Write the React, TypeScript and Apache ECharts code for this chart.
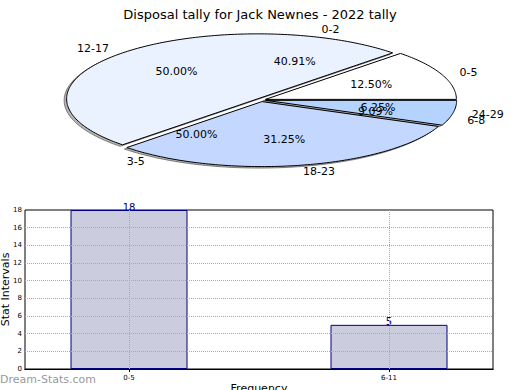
import React, { useEffect, useRef } from "react";
import * as echarts from "echarts";

const chartTitle = "Disposal tally for Jack Newnes - 2022 tally";
const outerLabels = ["0-5", "12-17", "18-23", "24-29"];
const outerValues = [12.5, 50.0, 31.25, 6.25];
const outerColors = ["#ffffff", "#eaf1ff", "#c4d8ff", "#b4d4ff"];
const innerLabels = ["0-2", "3-5", "6-8"];
const innerValues = [40.91, 50.0, 9.09];
const barCategories = ["0-5", "6-11"];
const barValues = [18, 5];
const yTicks = [0, 2, 4, 6, 8, 10, 12, 14, 16, 18];

const FONT = "DejaVu Sans";
const CX = 261;
const CY = 100;
const RX = 191;
const RY = 65;
const EXPLODE = 0.025;

function toSlices(values: number[]) {
  const total = values.reduce((a, b) => a + b, 0);
  let acc = 0;
  return values.map((v) => {
    const a0 = (acc / total) * 360;
    acc += v;
    const a1 = (acc / total) * 360;
    return { a0, a1, mid: (a0 + a1) / 2, pct: (v / total) * 100 };
  });
}

const outerSlices = toSlices(outerValues);
const innerSlices = toSlices(innerValues);

function wedgePoints(a0: number, a1: number, dx: number, dy: number) {
  const mid = ((a0 + a1) / 2) * Math.PI / 180;
  const ox = CX + EXPLODE * RX * Math.cos(mid) + dx;
  const oy = CY - EXPLODE * RY * Math.sin(mid) + dy;
  const pts: number[][] = [[ox, oy]];
  const steps = Math.max(2, Math.ceil(a1 - a0));
  for (let k = 0; k <= steps; k++) {
    const a = (a0 + ((a1 - a0) * k) / steps) * Math.PI / 180;
    pts.push([ox + RX * Math.cos(a), oy - RY * Math.sin(a)]);
  }
  return pts;
}

function labelEls(slice: { mid: number; pct: number }, name: string) {
  const m = slice.mid * Math.PI / 180;
  const ex = EXPLODE * RX * Math.cos(m);
  const ey = -EXPLODE * RY * Math.sin(m);
  const c = Math.cos(m);
  const s = Math.sin(m);
  const lx = CX + ex + 1.1 * RX * c;
  const ly = CY + ey - 1.1 * RY * s;
  const px = CX + ex + 0.6 * RX * c;
  const py = CY + ey - 0.6 * RY * s;
  return [
    {
      type: "text",
      x: lx,
      y: ly,
      style: {
        text: name,
        fill: "#000",
        fontSize: 11,
        fontFamily: FONT,
        align: c >= 0 ? "left" : "right",
        verticalAlign: "middle",
      },
    },
    {
      type: "text",
      x: px,
      y: py,
      style: {
        text: slice.pct.toFixed(2) + "%",
        fill: "#000",
        fontSize: 11,
        fontFamily: FONT,
        align: "center",
        verticalAlign: "middle",
      },
    },
  ];
}

export default function App() {
  const ref = useRef<HTMLDivElement>(null);
  useEffect(() => {
    if (!ref.current) return;
    const chart = echarts.init(ref.current, undefined, { renderer: "svg" });
    const option: any = {
      animation: false,
      title: {
        text: chartTitle,
        left: "center",
        top: 3,
        textStyle: { fontSize: 13, fontWeight: "normal", fontFamily: FONT, color: "#000" },
      },
      grid: {
        left: 25,
        right: 27,
        top: 210,
        bottom: 21,
        outerBoundsMode: "none",
        containLabel: false,
        show: true,
        borderColor: "#000",
        borderWidth: 1,
      },
      xAxis: [
        {
          type: "value",
          min: -0.4,
          max: 1.4,
          name: "Frequency",
          nameLocation: "middle",
          nameGap: 14,
          nameMoveOverlap: false,
          nameTextStyle: { fontSize: 11, color: "#000", fontFamily: FONT },
          axisLine: { show: true, lineStyle: { color: "#000" } },
          axisTick: { show: true, inside: true, length: 3, customValues: [0, 1], lineStyle: { color: "#000" } },
          axisLabel: {
            show: true,
            customValues: [0, 1],
            fontSize: 7,
            color: "#000",
            fontFamily: FONT,
            margin: 5,
            formatter: (v: number) => barCategories[Math.round(v)] ?? "",
          },
          splitLine: { show: false },
        },
        {
          type: "value",
          position: "top",
          min: -0.4,
          max: 1.4,
          axisLine: { show: true, lineStyle: { color: "#000" } },
          axisTick: { show: true, inside: true, length: 3, customValues: [0, 1], lineStyle: { color: "#000" } },
          axisLabel: { show: false },
          splitLine: { show: false },
        },
      ],
      yAxis: [
        {
          type: "value",
          min: 0,
          max: 18,
          interval: 2,
          name: "Stat Intervals",
          nameLocation: "middle",
          nameGap: 14,
          nameMoveOverlap: false,
          nameTextStyle: { fontSize: 11, color: "#000", fontFamily: FONT },
          axisLine: { show: true, lineStyle: { color: "#000" } },
          axisTick: { show: true, inside: true, length: 3, lineStyle: { color: "#000" } },
          axisLabel: { fontSize: 7, color: "#000", fontFamily: FONT, margin: 3 },
          splitLine: { show: false },
        },
        {
          type: "value",
          position: "right",
          min: 0,
          max: 18,
          interval: 2,
          axisLine: { show: true, lineStyle: { color: "#000" } },
          axisTick: { show: true, inside: true, length: 3, lineStyle: { color: "#000" } },
          axisLabel: { show: false },
          splitLine: { show: false },
        },
      ],
      graphic: [
        {
          type: "text",
          left: 0,
          top: 374,
          style: { text: "Dream-Stats.com", fill: "#999", fontSize: 11, fontFamily: FONT },
        },
      ],
      series: [
        {
          type: "custom",
          coordinateSystem: "none",
          silent: true,
          data: outerValues,
          renderItem: (params: any) => {
            const s = outerSlices[params.dataIndex];
            return {
              type: "polygon",
              shape: { points: wedgePoints(s.a0, s.a1, -2.5, 1.5) },
              style: { fill: "#777", stroke: "#333", lineWidth: 1, opacity: 0.55 },
            };
          },
        },
        {
          type: "custom",
          coordinateSystem: "none",
          silent: true,
          data: outerValues,
          renderItem: (params: any) => {
            const i = params.dataIndex;
            const s = outerSlices[i];
            return {
              type: "polygon",
              shape: { points: wedgePoints(s.a0, s.a1, 0, 0) },
              style: { fill: outerColors[i], stroke: "#000", lineWidth: 1 },
            };
          },
        },
        {
          type: "custom",
          coordinateSystem: "none",
          silent: true,
          data: outerValues,
          renderItem: (params: any) => {
            const i = params.dataIndex;
            return { type: "group", children: labelEls(outerSlices[i], outerLabels[i]) };
          },
        },
        {
          type: "custom",
          coordinateSystem: "none",
          silent: true,
          data: innerValues,
          renderItem: (params: any) => {
            const i = params.dataIndex;
            return { type: "group", children: labelEls(innerSlices[i], innerLabels[i]) };
          },
        },
        {
          type: "bar",
          xAxisIndex: 0,
          yAxisIndex: 0,
          data: barValues.map((v, i) => [i, v]),
          barWidth: 117,
          itemStyle: { color: "#ccccdf", borderColor: "#000080", borderWidth: 1 },
          label: {
            show: true,
            position: "top",
            distance: -2,
            color: "#000080",
            fontSize: 10,
            fontFamily: FONT,
          },
          markLine: {
            silent: true,
            symbol: ["none", "none"],
            label: { show: false },
            lineStyle: { type: "dotted", color: "#aaa", width: 1 },
            data: [
              ...barCategories.map((_, i) => ({ xAxis: i })),
              ...yTicks.filter((t) => t > yTicks[0] && t < yTicks[yTicks.length - 1]).map((t) => ({ yAxis: t })),
            ],
          },
        },
      ],
    };
    chart.setOption(option);
    return () => chart.dispose();
  }, []);
  return (
    <div
      ref={ref}
      style={{ position: "fixed", left: 0, top: 0, width: 520, height: 390, background: "#fff" }}
    />
  );
}
